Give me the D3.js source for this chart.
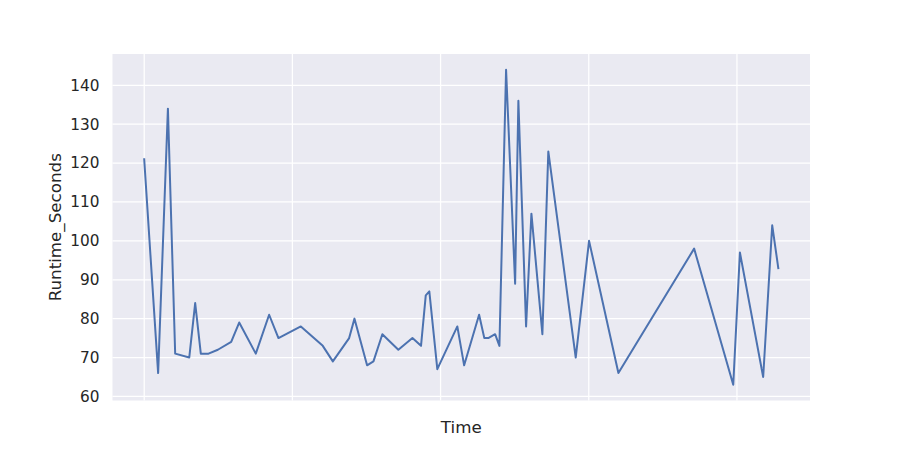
<!DOCTYPE html>
<html>
<head>
<meta charset="utf-8">
<script src="https://cdn.jsdelivr.net/npm/d3@7"></script>
<style>
  html, body { margin: 0; padding: 0; background: #ffffff; }
  svg { display: block; }
</style>
</head>
<body>
<svg id="chart" width="900" height="450"></svg>
<script>
// Time (arbitrary units, no tick labels shown in the reference)
const time = [0, 0.94, 1.60, 2.09, 3.04, 3.44, 3.82, 4.34, 4.97, 5.87,
  6.41, 7.53, 8.43, 9.06, 10.57, 12.05, 12.73, 13.83, 14.19, 15.04,
  15.47, 16.07, 17.15, 18.10, 18.68, 19.00, 19.24, 19.78, 21.13, 21.59,
  22.60, 22.95, 23.22, 23.68, 23.97, 24.42, 25.03, 25.25, 25.77, 26.13,
  26.87, 27.27, 29.12, 30.02, 32.00, 37.11, 39.75, 40.20, 41.77, 42.38,
  42.79];
const runtimeSeconds = [121, 66, 134, 71, 70, 84, 71, 71, 72, 74,
  79, 71, 81, 75, 78, 73, 69, 75, 80, 68,
  69, 76, 72, 75, 73, 86, 87, 67, 78, 68,
  81, 75, 75, 76, 73, 144, 89, 136, 78, 107,
  76, 123, 70, 100, 66, 98, 63, 97, 65, 104,
  93];
const yTicks = [60, 70, 80, 90, 100, 110, 120, 130, 140];
const xGrid = [0, 10, 20, 30, 40];

const data = time.map((t, i) => ({ t, v: runtimeSeconds[i] }));

const svg = d3.select("#chart");
const L = 112.5, R = 810, T = 54, B = 400.5;

function padded(ext) {
  const span = ext[1] - ext[0];
  return [ext[0] - span * 0.05, ext[1] + span * 0.05];
}
const x = d3.scaleLinear().domain(padded(d3.extent(time))).range([L, R]);
const y = d3.scaleLinear().domain(padded(d3.extent(runtimeSeconds))).range([B, T]);

// background
svg.append("rect").attr("x", L).attr("y", T).attr("width", R - L).attr("height", B - T)
  .attr("fill", "#EAEAF2");

// grid
const g = svg.append("g");
g.selectAll(".yg").data(yTicks).enter().append("line")
  .attr("x1", L).attr("x2", R).attr("y1", d => y(d)).attr("y2", d => y(d))
  .attr("stroke", "#ffffff").attr("stroke-width", 1.25);
g.selectAll(".xg").data(xGrid).enter().append("line")
  .attr("y1", T).attr("y2", B).attr("x1", d => x(d)).attr("x2", d => x(d))
  .attr("stroke", "#ffffff").attr("stroke-width", 1.25);

// y axis labels
const yAxis = d3.axisLeft(y).tickValues(yTicks).tickSize(0).tickPadding(13).tickFormat(d3.format("d"));
const ya = svg.append("g").attr("transform", `translate(${L},0)`).call(yAxis);
ya.select(".domain").remove();
ya.selectAll("text").attr("fill", "#262626")
  .style("font-family", "DejaVu Sans, sans-serif").style("font-size", "15.3px");

// line
const line = d3.line().x(d => x(d.t)).y(d => y(d.v));
svg.append("path").datum(data).attr("d", line)
  .attr("fill", "none").attr("stroke", "#4C72B0").attr("stroke-width", 2)
  .attr("stroke-linejoin", "round").attr("stroke-linecap", "square");

// axis titles
svg.append("text").attr("x", (L + R) / 2).attr("y", 433).attr("text-anchor", "middle")
  .attr("fill", "#262626").style("font-family", "DejaVu Sans, sans-serif").style("font-size", "16.7px")
  .text("Time");
svg.append("text").attr("transform", `translate(61,${(T + B) / 2}) rotate(-90)`)
  .attr("text-anchor", "middle")
  .attr("fill", "#262626").style("font-family", "DejaVu Sans, sans-serif").style("font-size", "16.7px")
  .text("Runtime_Seconds");
</script>
</body>
</html>
